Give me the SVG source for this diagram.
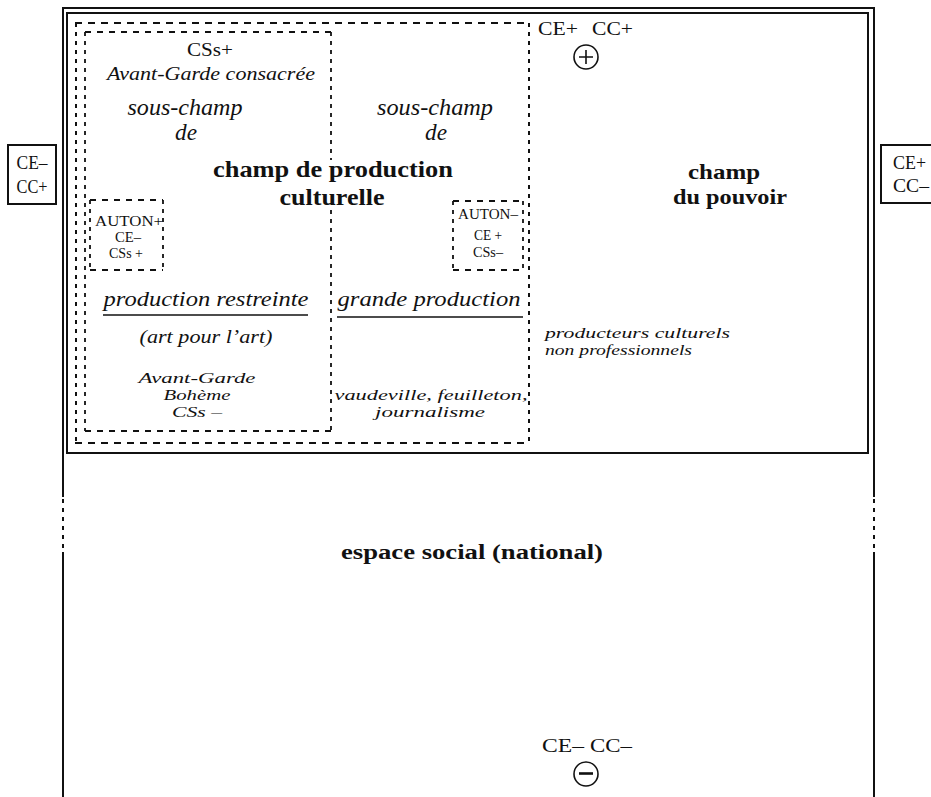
<svg xmlns="http://www.w3.org/2000/svg" width="931" height="797" viewBox="0 0 931 797">
<style>
text{font-family:"Liberation Serif","Times New Roman",serif;fill:#111}
.i{font-style:italic}
.b{font-weight:bold}
.m{text-anchor:middle}
.solid{fill:none;stroke:#111;stroke-width:2}
.thin{fill:none;stroke:#111;stroke-width:1.6}
.dh{fill:none;stroke:#111;stroke-width:2;stroke-dasharray:7 6}
.dv{fill:none;stroke:#111;stroke-width:2;stroke-dasharray:4 5}
.ds{fill:none;stroke:#111;stroke-width:1.8;stroke-dasharray:6 6}
.dsv{fill:none;stroke:#111;stroke-width:1.8;stroke-dasharray:4 5}
</style>
<rect width="931" height="797" fill="#fff"/>

<g id="espace-social">
  <path class="solid" d="M63,797 V552 M63,497 V8 H874 V497 M874,552 V797"/>
  <path class="dv" d="M63,499 V552 M874,499 V552"/>
  <text class="b m" x="472" y="559" font-size="20" textLength="262" lengthAdjust="spacingAndGlyphs">espace social (national)</text>
</g>

<g id="champ-du-pouvoir">
  <rect class="solid" x="67" y="13" width="801" height="440"/>
  <text class="b m" x="724" y="179" font-size="21.5" textLength="72" lengthAdjust="spacingAndGlyphs">champ</text>
  <text class="b m" x="730" y="204" font-size="21.5" textLength="114" lengthAdjust="spacingAndGlyphs">du pouvoir</text>
  <text class="i" x="545" y="338" font-size="15" textLength="185" lengthAdjust="spacingAndGlyphs">producteurs culturels</text>
  <text class="i" x="545" y="355" font-size="15" textLength="147" lengthAdjust="spacingAndGlyphs">non professionnels</text>
</g>

<g id="pole-plus">
  <text x="538" y="35" font-size="19" textLength="40" lengthAdjust="spacingAndGlyphs">CE+</text>
  <text x="592" y="35" font-size="19" textLength="41" lengthAdjust="spacingAndGlyphs">CC+</text>
  <circle class="thin" cx="586" cy="57" r="12"/>
  <path class="thin" d="M579,57 H593 M586,50 V64"/>
</g>

<g id="pole-minus">
  <text x="542" y="752" font-size="19" textLength="42" lengthAdjust="spacingAndGlyphs">CE–</text>
  <text x="590" y="752" font-size="19" textLength="42" lengthAdjust="spacingAndGlyphs">CC–</text>
  <circle class="thin" cx="586" cy="774" r="12"/>
  <path d="M579,773.5 H593" stroke="#111" stroke-width="2.6"/>
</g>

<g id="label-left">
  <rect class="solid" x="8" y="145" width="48" height="59"/>
  <text class="m" x="32" y="169" font-size="18" textLength="31" lengthAdjust="spacingAndGlyphs">CE–</text>
  <text class="m" x="32" y="193" font-size="18" textLength="31" lengthAdjust="spacingAndGlyphs">CC+</text>
</g>

<g id="label-right">
  <rect class="solid" x="881" y="145" width="60" height="58"/>
  <text x="893" y="169" font-size="18" textLength="33" lengthAdjust="spacingAndGlyphs">CE+</text>
  <text x="893" y="192" font-size="18" textLength="36" lengthAdjust="spacingAndGlyphs">CC–</text>
</g>

<g id="champ-production-culturelle">
  <path class="dh" d="M75,23 H529 M75,443 H529"/>
  <path class="dv" d="M76,23 V443 M529,23 V443"/>
  <text class="b m" x="333" y="177" font-size="24" textLength="240" lengthAdjust="spacingAndGlyphs">champ de production</text>
  <text class="b m" x="332" y="205" font-size="24" textLength="105" lengthAdjust="spacingAndGlyphs">culturelle</text>
</g>

<g id="production-restreinte">
  <path class="ds" d="M85,32 H331 M85,431 H331"/>
  <path class="dsv" d="M85,32 V431 M331,32 V160 M331,210 V431"/>
  <text class="m" x="210" y="56" font-size="19" textLength="46" lengthAdjust="spacingAndGlyphs">CSs+</text>
  <text class="i m" x="211" y="80" font-size="19" textLength="208" lengthAdjust="spacingAndGlyphs">Avant-Garde consacrée</text>
  <text class="i m" x="185" y="115" font-size="23" textLength="115" lengthAdjust="spacingAndGlyphs">sous-champ</text>
  <text class="i m" x="186" y="140" font-size="23" textLength="22" lengthAdjust="spacingAndGlyphs">de</text>
  <text class="i m" x="206" y="306" font-size="22" textLength="205" lengthAdjust="spacingAndGlyphs">production restreinte</text>
  <path d="M103,315 H308" stroke="#111" stroke-width="1.6"/>
  <text class="i m" x="206" y="343" font-size="19" textLength="133" lengthAdjust="spacingAndGlyphs">(art pour l’art)</text>
  <text class="i m" x="197" y="383" font-size="15.5" textLength="117" lengthAdjust="spacingAndGlyphs">Avant-Garde</text>
  <text class="i m" x="197" y="400" font-size="15.5" textLength="67" lengthAdjust="spacingAndGlyphs">Bohème</text>
  <text class="i m" x="197" y="417" font-size="15.5" textLength="50" lengthAdjust="spacingAndGlyphs">CSs –</text>
</g>

<g id="auton-plus">
  <path class="ds" d="M90,200 H163 M90,270 H163"/>
  <path class="dsv" d="M90,200 V270 M163,200 V270"/>
  <text class="m" x="129" y="226" font-size="14" textLength="68" lengthAdjust="spacingAndGlyphs">AUTON+</text>
  <text class="m" x="128" y="242" font-size="14" textLength="26" lengthAdjust="spacingAndGlyphs">CE–</text>
  <text class="m" x="126" y="258" font-size="14" textLength="34" lengthAdjust="spacingAndGlyphs">CSs +</text>
</g>

<g id="grande-production">
  <text class="i m" x="435" y="115" font-size="23" textLength="116" lengthAdjust="spacingAndGlyphs">sous-champ</text>
  <text class="i m" x="436" y="140" font-size="23" textLength="22" lengthAdjust="spacingAndGlyphs">de</text>
  <text class="i m" x="429" y="306" font-size="22" textLength="183" lengthAdjust="spacingAndGlyphs">grande production</text>
  <path d="M337,317 H523" stroke="#111" stroke-width="1.6"/>
  <text class="i m" x="431" y="400" font-size="15.5" textLength="193" lengthAdjust="spacingAndGlyphs">vaudeville, feuilleton,</text>
  <text class="i m" x="430" y="417" font-size="15.5" textLength="110" lengthAdjust="spacingAndGlyphs">journalisme</text>
</g>

<g id="auton-minus">
  <path class="ds" d="M453,201 H523 M453,270 H523"/>
  <path class="dsv" d="M453,201 V270 M523,201 V270"/>
  <text class="m" x="488" y="219" font-size="14" textLength="60" lengthAdjust="spacingAndGlyphs">AUTON–</text>
  <text class="m" x="488" y="240" font-size="14" textLength="28" lengthAdjust="spacingAndGlyphs">CE +</text>
  <text class="m" x="488" y="257" font-size="14" textLength="30" lengthAdjust="spacingAndGlyphs">CSs–</text>
</g>
</svg>
